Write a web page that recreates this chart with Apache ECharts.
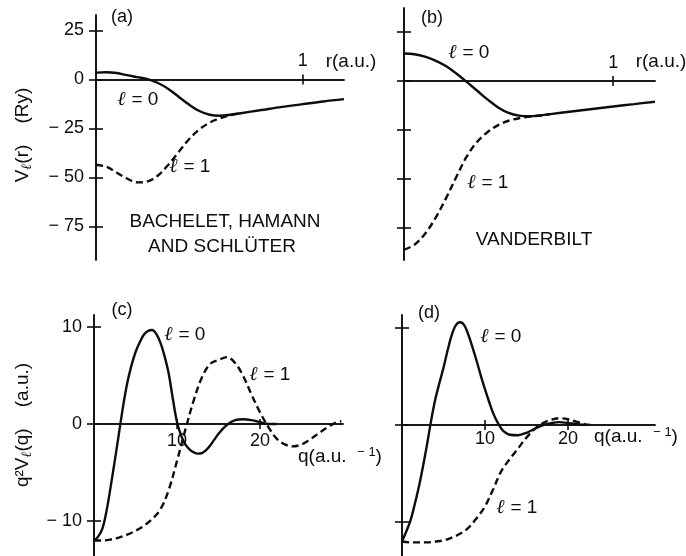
<!DOCTYPE html>
<html>
<head>
<meta charset="utf-8">
<script src="https://cdn.jsdelivr.net/npm/echarts@6/dist/echarts.min.js"></script>
<style>
  html, body { margin: 0; padding: 0; background: #fff; }
  #chart { width: 686px; height: 556px; }
</style>
</head>
<body>
<div id="chart"></div>
<script>
// Pseudopotentials V_l(r) in real space (Ry) and q^2 V_l(q) in reciprocal space (a.u.)

// (a) Bachelet, Hamann and Schlüter — real space
const rA0 = [0, 0.05, 0.1, 0.15, 0.2, 0.25, 0.3, 0.35, 0.4, 0.45, 0.5, 0.55, 0.6, 0.65, 0.7, 0.8, 0.9, 1.0, 1.1, 1.2];
const vA0 = [3.5, 3.7, 3.3, 2.2, 1.2, 0.2, -1.8, -4.8, -8.8, -12.8, -16.1, -18.0, -18.5, -18.0, -17.2, -15.6, -14.0, -12.6, -11.2, -10.0];
const rA1 = [0, 0.05, 0.1, 0.15, 0.2, 0.25, 0.3, 0.35, 0.4, 0.45, 0.5, 0.55, 0.6, 0.65, 0.7];
const vA1 = [-43.5, -44.5, -47.5, -50.5, -52.5, -52.0, -49.0, -43.5, -37.0, -30.5, -25.5, -22.0, -19.8, -18.3, -17.2];

// (b) Vanderbilt — real space
const rB0 = [0, 0.05, 0.1, 0.15, 0.2, 0.25, 0.3, 0.35, 0.4, 0.45, 0.5, 0.55, 0.6, 0.65, 0.7, 0.8, 0.9, 1.0, 1.1, 1.2];
const vB0 = [14.0, 13.6, 12.4, 10.4, 7.6, 3.8, -0.5, -5.0, -9.5, -13.5, -16.3, -17.7, -18.0, -17.6, -16.9, -15.6, -14.3, -13.0, -11.8, -10.6];
const rB1 = [0, 0.05, 0.1, 0.15, 0.2, 0.25, 0.3, 0.35, 0.4, 0.45, 0.5, 0.55, 0.6, 0.65, 0.7];
const vB1 = [-86.0, -83.5, -78.0, -70.0, -60.0, -49.0, -38.5, -31.0, -26.0, -22.5, -20.3, -19.0, -18.2, -17.6, -16.9];

// (c) Bachelet, Hamann and Schlüter — reciprocal space
const qC0 = [0, 0.5, 1, 1.5, 2, 2.5, 3, 3.5, 4, 4.5, 5, 5.5, 6, 6.5, 7, 7.5, 8, 8.5, 9, 9.5, 10, 10.5, 11, 11.5, 12, 12.5, 13, 13.5, 14, 14.5, 15, 16, 17, 18, 19, 20, 21, 22];
const vC0 = [-12, -11.6, -10.8, -9, -6.5, -3.8, -1, 1.8, 4.2, 6, 7.4, 8.4, 9.2, 9.6, 9.7, 9.3, 8.4, 7, 5.2, 2.6, 0.2, -1.2, -2.1, -2.6, -2.9, -3.05, -3, -2.7, -2.2, -1.6, -1, -0.1, 0.4, 0.5, 0.4, 0.2, 0, 0];
const qC1 = [0, 1, 2, 3, 4, 5, 6, 7, 8, 9, 10, 11, 12, 13, 14, 15, 16, 17, 18, 19, 20, 21, 22, 23, 24, 25, 26, 27, 28, 29, 29.8];
const vC1 = [-12, -12, -11.9, -11.7, -11.4, -11, -10.5, -9.8, -8.8, -6.8, -3.8, -0.6, 2.4, 4.8, 6.2, 6.6, 6.9, 6.3, 4.9, 3.0, 1.2, -0.3, -1.5, -2.1, -2.3, -2.1, -1.6, -1, -0.4, 0.1, 0.3];

// (d) Vanderbilt — reciprocal space
const qD0 = [0, 0.5, 1, 1.5, 2, 2.5, 3, 3.5, 4, 4.5, 5, 5.5, 6, 6.5, 7, 7.5, 8, 8.5, 9, 9.5, 10, 10.5, 11, 11.5, 12, 12.5, 13, 14, 15, 16, 17, 18, 19, 20, 21, 22];
const vD0 = [-12, -11, -9.9, -8.3, -6.5, -4.4, -2.1, 0.4, 2.6, 4.3, 5.9, 7.7, 9.3, 10.3, 10.6, 10.3, 9.3, 8, 6.6, 5.1, 3.7, 2.4, 1.2, 0.3, -0.4, -0.8, -1, -1.05, -0.8, -0.4, 0, 0.2, 0.3, 0.2, 0.1, 0];
const qD1 = [0, 1, 2, 3, 4, 5, 6, 7, 8, 9, 10, 11, 12, 13, 14, 15, 16, 17, 18, 19, 20, 21, 22, 23];
const vD1 = [-12, -12.1, -12.1, -12.1, -12, -11.9, -11.6, -11.2, -10.6, -9.6, -8.4, -6.6, -4.7, -3.5, -2.4, -1.3, -0.4, 0.2, 0.55, 0.7, 0.6, 0.35, 0.1, 0];

// Axis ticks
const rTicks = [1];
const vTicks = [-75, -50, -25, 0, 25];
const qTicks = [10, 20];
const q2vTicks = [-10, 0, 10];

const INK = '#0d0d0d';
const FONT = 'Liberation Sans, Arial, Helvetica, sans-serif';
const SERIF = 'Liberation Serif, DejaVu Serif, serif';
const AXIS_W = 1.6;

const pairs = (xs, ys) => xs.map((x, i) => [x, ys[i]]);
const minusFmt = v => (v < 0 ? '\u2212 ' + (-v) : String(v));

const grids = [];
const xAxes = [];
const yAxes = [];
const series = [];
const labelBase = { color: INK, fontSize: 18, fontFamily: FONT };

// One panel: a plotting grid carrying the vertical axis and the curves, plus a thin
// grid whose edge sits on the zero level and carries the horizontal axis.
function addPanel(box, xr, xTicks, xPos, xMargin, yr, yTicks, showYLabels, curves) {
  const gData = grids.length;
  grids.push({ left: box.left, top: box.top, width: box.width, height: box.height });
  const xData = xAxes.length;
  xAxes.push({ type: 'value', gridIndex: gData, min: xr[0], max: xr[1], show: false });
  const yData = yAxes.length;
  [false, true].forEach(inside => {
    yAxes.push({
      type: 'value', gridIndex: gData, min: yr[0], max: yr[1], position: 'left',
      axisLine: { show: true, onZero: false, lineStyle: { color: INK, width: AXIS_W } },
      splitLine: { show: false },
      axisTick: { show: true, inside, length: 7, customValues: yTicks, lineStyle: { color: INK, width: AXIS_W } },
      axisLabel: Object.assign({ show: showYLabels && !inside, customValues: yTicks, margin: 12, formatter: minusFmt }, labelBase)
    });
  });

  // vertical position of the zero level inside the plotting grid
  const zeroY = box.top + box.height * (yr[1] / (yr[1] - yr[0]));
  const gAxis = grids.length;
  grids.push(xPos === 'top'
    ? { left: box.left, top: zeroY, width: box.width, height: 1 }
    : { left: box.left, top: zeroY - 1, width: box.width, height: 1 });
  yAxes.push({ type: 'value', gridIndex: gAxis, min: 0, max: 1, show: false });
  [false, true].forEach(inside => {
    xAxes.push({
      type: 'value', gridIndex: gAxis, min: xr[0], max: xr[1], position: xPos,
      axisLine: { show: true, onZero: false, lineStyle: { color: INK, width: AXIS_W } },
      splitLine: { show: false },
      axisTick: { show: true, inside, length: 5, customValues: xTicks, lineStyle: { color: INK, width: AXIS_W } },
      axisLabel: Object.assign({ show: !inside, customValues: xTicks, margin: xMargin }, labelBase)
    });
  });

  curves.forEach(([xs, ys, dashed]) => {
    series.push({
      type: 'line', xAxisIndex: xData, yAxisIndex: yData,
      data: pairs(xs, ys), smooth: 0.35, showSymbol: false, symbol: 'none',
      lineStyle: { color: INK, width: 2.4, type: dashed ? [7, 4] : 'solid' },
      silent: true
    });
  });
}

addPanel({ left: 96, top: 15, width: 248, height: 245 }, [0, 1.2], rTicks, 'top', 9,
  [-92.1, 32.9], vTicks, true, [[rA0, vA0, false], [rA1, vA1, true]]);
addPanel({ left: 404, top: 8, width: 251, height: 252 }, [0, 1.2], rTicks, 'top', 9,
  [-91.3, 37.2], vTicks, false, [[rB0, vB0, false], [rB1, vB1, true]]);
addPanel({ left: 94, top: 315, width: 249, height: 241 }, [0, 30], qTicks, 'bottom', 8,
  [-13.6, 11.24], q2vTicks, true, [[qC0, vC0, false], [qC1, vC1, true]]);
addPanel({ left: 402, top: 315, width: 253, height: 241 }, [0, 30.5], qTicks, 'bottom', 5,
  [-13.5, 11.34], q2vTicks, false, [[qD0, vD0, false], [qD1, vD1, true]]);

grids.forEach(g => Object.assign(g, { outerBoundsMode: 'none', containLabel: false }));

function txt(x, y, text, size, extra) {
  return Object.assign({
    type: 'text', x, y, silent: true,
    style: {
      text, fill: INK, fontSize: size || 19, fontFamily: FONT,
      align: 'center', verticalAlign: 'middle',
      rich: {
        l: { fontStyle: 'italic', fontWeight: 'bold', fontFamily: SERIF, fontSize: 20 },
        n: { fontSize: 19, fontFamily: FONT },
        s: { fontSize: 14, fontStyle: 'italic', fontWeight: 'bold', fontFamily: SERIF, padding: [9, 0, 0, 0] },
        p: { fontSize: 13, fontFamily: FONT, padding: [0, 0, 10, 0] }
      }
    }
  }, extra || {});
}
const lEq = n => '{l|\u2113} = ' + n;
const qLabel = '{n|q(a.u.  }{p|\u2212 1}{n|)}';

const graphic = [
  txt(122, 17, '(a)', 18), txt(432, 18, '(b)', 18),
  txt(122, 310, '(c)', 18), txt(429, 313, '(d)', 18),
  txt(351, 62, 'r(a.u.)'), txt(661, 62, 'r(a.u.)'),
  txt(340, 457, qLabel), txt(636, 437, qLabel),
  txt(138, 100, lEq(0)), txt(190, 167, lEq(1)),
  txt(469, 53, lEq(0)), txt(488, 183, lEq(1)),
  txt(185, 335, lEq(0)), txt(270, 375, lEq(1)),
  txt(501, 337, lEq(0)), txt(517, 508, lEq(1)),
  txt(225, 222, 'BACHELET, HAMANN'), txt(222, 247, 'AND SCHLÜTER'),
  txt(534, 240, 'VANDERBILT'),
  txt(23, 135, '{n|V}{s|\u2113}{n|(r)    (Ry)}', 19, { rotation: Math.PI / 2 }),
  txt(23, 425, '{n|q\u00b2V}{s|\u2113}{n|(q)    (a.u.)}', 19, { rotation: Math.PI / 2 })
];

const chart = echarts.init(document.getElementById('chart'), null, { renderer: 'canvas' });
chart.setOption({
  animation: false,
  backgroundColor: '#fff',
  grid: grids,
  xAxis: xAxes,
  yAxis: yAxes,
  series,
  graphic
});
</script>
</body>
</html>
